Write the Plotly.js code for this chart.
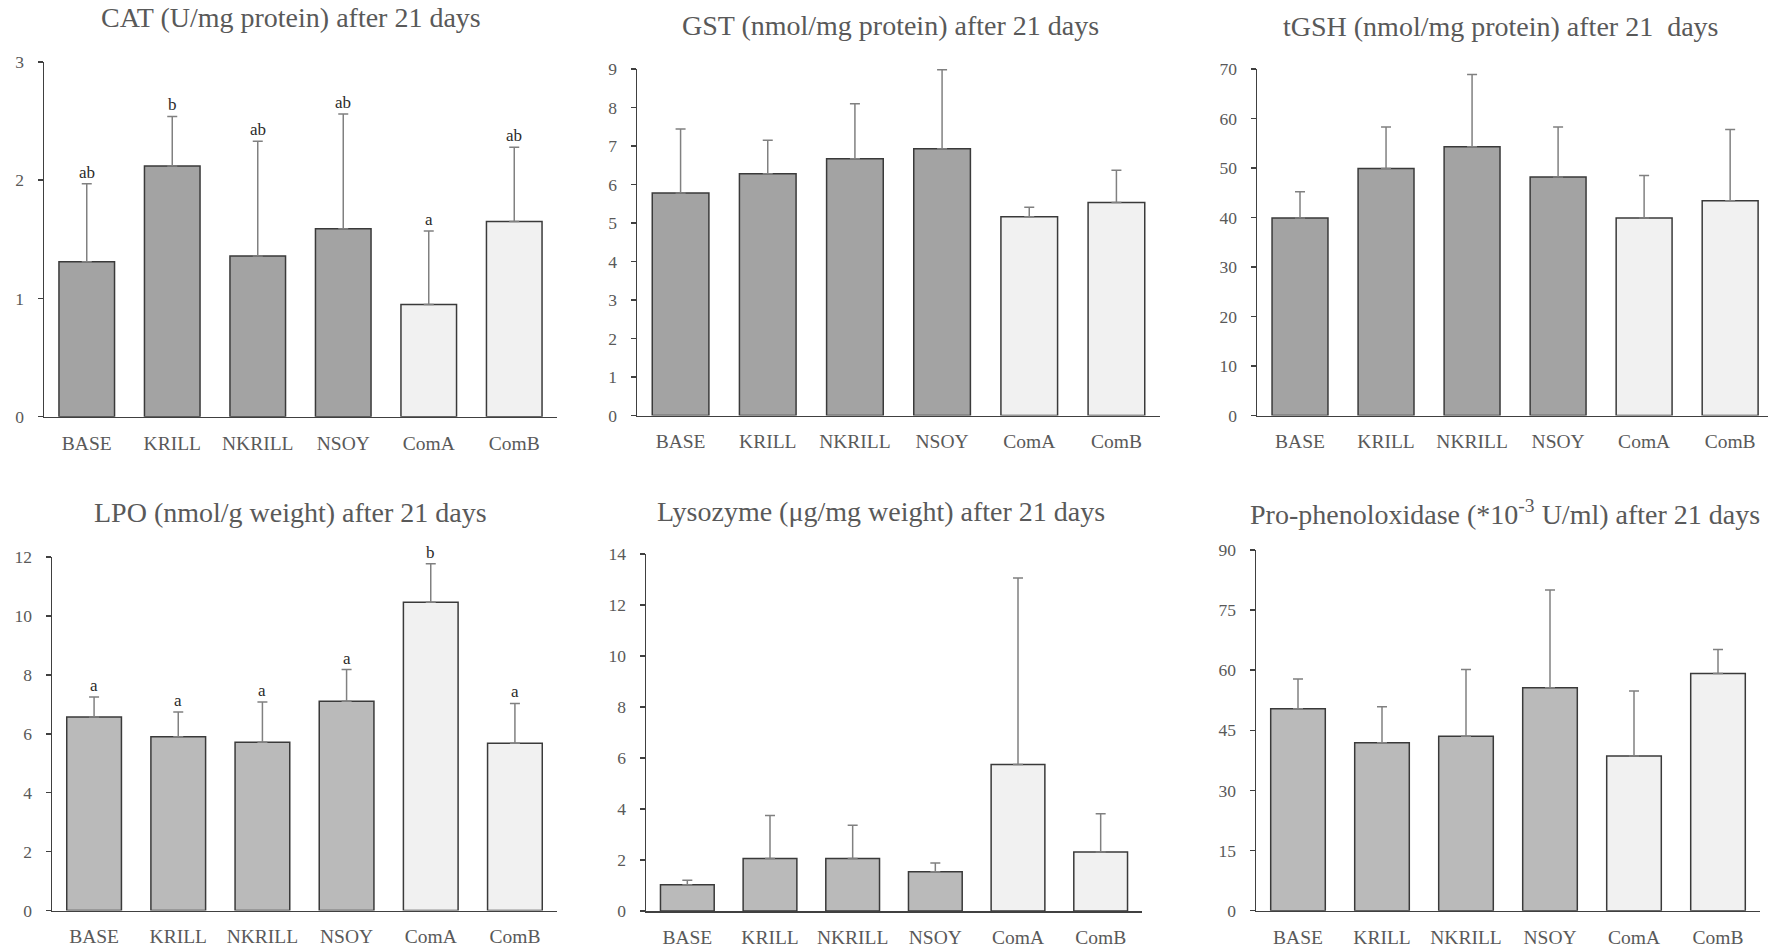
<!DOCTYPE html>
<html>
<head>
<meta charset="utf-8">
<script src="https://cdn.plot.ly/plotly-3.0.1.min.js"></script>
<style>html,body{margin:0;padding:0;background:#fff;}#chart{width:1768px;height:947px;}</style>
</head>
<body>
<div id="chart"></div>
<script>
// ---- data ----
const categories = ['BASE', 'KRILL', 'NKRILL', 'NSOY', 'ComA', 'ComB'];

const catTitle = 'CAT (U/mg protein) after 21 days';
const catMean = [1.31, 2.12, 1.36, 1.59, 0.95, 1.65];
const catSD = [0.66, 0.42, 0.97, 0.97, 0.62, 0.63];
const catLetters = ['ab', 'b', 'ab', 'ab', 'a', 'ab'];

const gstTitle = 'GST (nmol/mg protein) after 21 days';
const gstMean = [5.78, 6.28, 6.67, 6.93, 5.16, 5.53];
const gstSD = [1.66, 0.87, 1.43, 2.05, 0.25, 0.84];

const tgshTitle = 'tGSH (nmol/mg protein) after 21  days';
const tgshMean = [39.9, 49.9, 54.3, 48.2, 39.9, 43.4];
const tgshSD = [5.3, 8.4, 14.6, 10.1, 8.6, 14.4];

const lpoTitle = 'LPO (nmol/g weight) after 21 days';
const lpoMean = [6.57, 5.90, 5.71, 7.10, 10.46, 5.68];
const lpoSD = [0.68, 0.84, 1.37, 1.08, 1.31, 1.35];
const lpoLetters = ['a', 'a', 'a', 'a', 'b', 'a'];

const lysoTitle = 'Lysozyme (μg/mg weight) after 21 days';
const lysoMean = [1.03, 2.06, 2.06, 1.54, 5.75, 2.31];
const lysoSD = [0.18, 1.69, 1.30, 0.34, 7.31, 1.50];

const ppoTitle = 'Pro-phenoloxidase (*10<sup>-3</sup> U/ml) after 21 days';
const ppoMean = [50.4, 41.9, 43.5, 55.6, 38.6, 59.2];
const ppoSD = [7.4, 9.0, 16.7, 24.4, 16.2, 6.0];

const yMax = [3, 9, 70, 12, 14, 90];
const yStep = [1, 1, 10, 2, 2, 15];

// ---- styling / layout ----
const W = 1768, H = 947;
const FONT = 'Liberation Serif, Times New Roman, serif';
const panels = [
  {title: catTitle, mean: catMean, sd: catSD, letters: catLetters, dark: '#a3a3a3',
   x0: 44, x1: 557, y0: 62, y1: 416.7, tx: 291, ty: 18, xr: [-0.5, 5.5]},
  {title: gstTitle, mean: gstMean, sd: gstSD, letters: null, dark: '#a3a3a3',
   x0: 637, x1: 1160, y0: 69, y1: 415.5, tx: 890, ty: 25, xr: [-0.5, 5.5]},
  {title: tgshTitle, mean: tgshMean, sd: tgshSD, letters: null, dark: '#a3a3a3',
   x0: 1257, x1: 1768, y0: 69, y1: 415.5, tx: 1500, ty: 26, xr: [-0.5, 5.44]},
  {title: lpoTitle, mean: lpoMean, sd: lpoSD, letters: lpoLetters, dark: '#bababa',
   x0: 52, x1: 557, y0: 557, y1: 910.5, tx: 290, ty: 512.5, xr: [-0.5, 5.5]},
  {title: lysoTitle, mean: lysoMean, sd: lysoSD, letters: null, dark: '#bababa',
   x0: 646, x1: 1142, y0: 554, y1: 911, tx: 881, ty: 511, xr: [-0.5, 5.5]},
  {title: ppoTitle, mean: ppoMean, sd: ppoSD, letters: null, dark: '#bababa',
   x0: 1256, x1: 1760, y0: 550, y1: 910.7, tx: 1505, ty: 512.5, xr: [-0.5, 5.5]}
];
const LIGHT = '#f1f1f1';

const traces = [];
const layout = {
  width: W, height: H,
  margin: {l: 0, r: 0, t: 0, b: 0},
  paper_bgcolor: '#ffffff', plot_bgcolor: '#ffffff',
  showlegend: false,
  bargap: 0.35,
  font: {family: FONT, color: '#595959'},
  annotations: []
};

panels.forEach((p, k) => {
  const n = k + 1;
  const xa = n === 1 ? 'x' : 'x' + n;
  const ya = n === 1 ? 'y' : 'y' + n;
  traces.push({
    type: 'bar',
    x: categories,
    y: p.mean,
    xaxis: xa, yaxis: ya,
    marker: {
      color: categories.map((c, i) => i < 4 ? p.dark : LIGHT),
      line: {color: '#3a3a3a', width: 1.5}
    },
    error_y: {
      type: 'data', symmetric: false,
      array: p.sd, arrayminus: p.sd.map(() => 0),
      color: '#808080', thickness: 1.5, width: 5
    },
    hoverinfo: 'x+y'
  });
  layout['xaxis' + (n === 1 ? '' : n)] = {
    domain: [p.x0 / W, p.x1 / W], anchor: ya,
    type: 'category', range: p.xr,
    showline: true, linecolor: '#404040', linewidth: 1.5,
    ticks: '', showgrid: false, zeroline: false,
    tickfont: {family: FONT, size: 19.5, color: '#595959'},
    ticklabelstandoff: 8,
    fixedrange: true
  };
  layout['yaxis' + (n === 1 ? '' : n)] = {
    domain: [1 - p.y1 / H, 1 - p.y0 / H], anchor: xa,
    range: [0, yMax[k]], dtick: yStep[k], tick0: 0,
    showline: true, linecolor: '#404040', linewidth: 1.5,
    ticks: 'outside', ticklen: 5, tickwidth: 1.5, tickcolor: '#404040',
    showgrid: false, zeroline: false,
    tickfont: {family: FONT, size: 17.5, color: '#595959'},
    ticklabelstandoff: 10,
    fixedrange: true
  };
  layout.annotations.push({
    xref: 'paper', yref: 'paper', x: p.tx / W, y: 1 - p.ty / H,
    xanchor: 'center', yanchor: 'middle', showarrow: false,
    text: p.title, font: {family: FONT, size: 28, color: '#595959'}
  });
  if (p.letters) {
    p.letters.forEach((t, i) => {
      layout.annotations.push({
        xref: xa, yref: ya, x: categories[i], y: p.mean[i] + p.sd[i],
        xanchor: 'center', yanchor: 'bottom', yshift: 0, showarrow: false,
        text: t, font: {family: FONT, size: 17, color: '#2b2b2b'}
      });
    });
  }
});

Plotly.newPlot('chart', traces, layout, {displayModeBar: false, staticPlot: true});
</script>
</body>
</html>
